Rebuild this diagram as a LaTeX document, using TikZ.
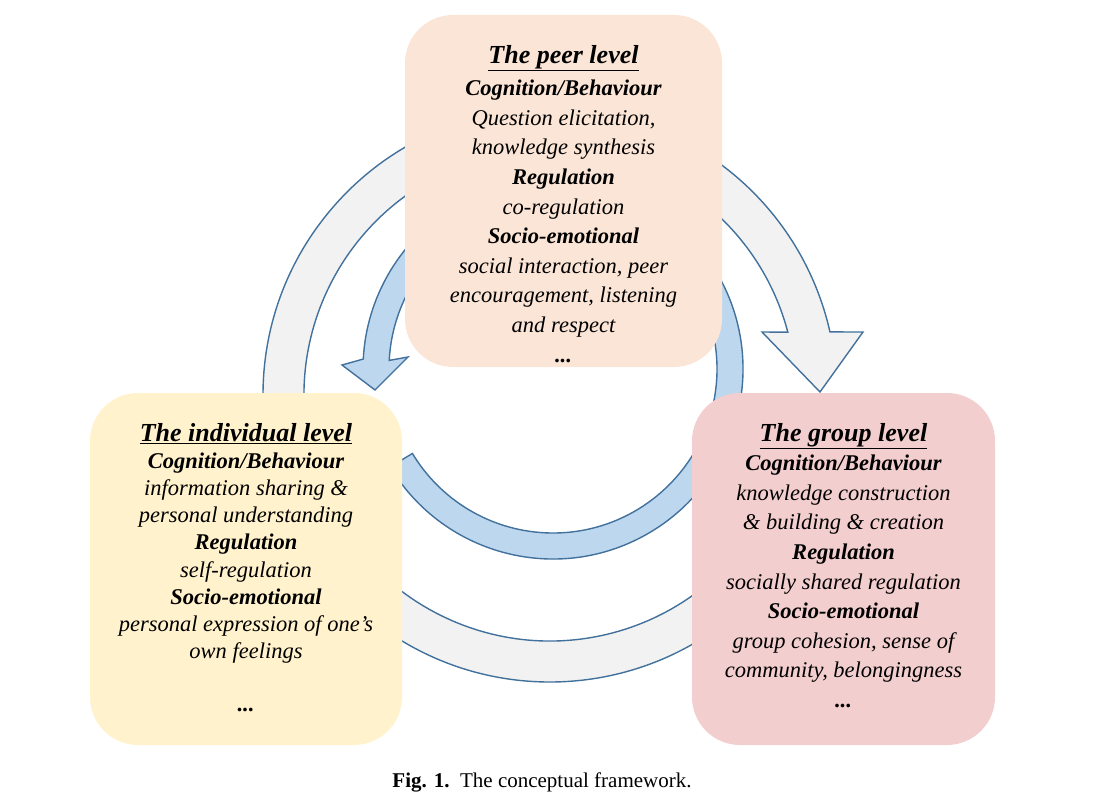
\documentclass[tikz,border=0pt]{standalone}
\usepackage{fontspec}
\setmainfont{Liberation Serif}
\usepackage{tikz}
\usetikzlibrary{positioning, calc}
\definecolor{ringline}{HTML}{41719C}
\definecolor{ringgray}{HTML}{F2F2F2}
\definecolor{ringblue}{HTML}{BDD7EE}
\definecolor{peerfill}{HTML}{FBE5D6}
\definecolor{indfill}{HTML}{FFF2CC}
\definecolor{groupfill}{HTML}{F3CECE}
\newcommand{\lvltitle}[1]{{\fontsize{26}{33}\selectfont\underline{\textbf{#1}}}}

\begin{document}
\begin{tikzpicture}[x=1pt, y=-1pt,
		ring/.style={draw=ringline, line width=1.4pt, line join=miter},
		levelbox/.style={rectangle, rounded corners=48pt, inner sep=0pt},
		leveltext/.style={align=center, inner sep=0pt, font=\itshape\fontsize{22.5}{29.6}\selectfont}]
	\useasboundingbox (0,0) rectangle (1096,792);
	% big ring: individual -> peer -> group
	\coordinate (oc) at (550,395);
	\draw [ring, fill=ringgray] ($(oc)+(40:287)$) arc[start angle=40, end angle=347.3, radius=287] -- (863,332) -- (820,392) -- (762,332) -- ($(oc)+(345.2:246)$) arc[start angle=345.2, end angle=40, radius=246] -- cycle;
	% small ring: group -> peer -> individual
	\coordinate (ic) at (553,369);
	\draw [ring, fill=ringblue] ($(ic)+(149:190)$) arc[start angle=149, end angle=-177, radius=190] -- (342,365) -- (375,390) -- (408,357) -- ($(ic)+(-177:164)$) arc[start angle=-177, end angle=149, radius=164] -- cycle;
	% the three levels
	\node [levelbox, fill=peerfill, minimum width=317pt, minimum height=352pt] (peer) at (563.5,191) {};
	\node [levelbox, fill=indfill, minimum width=312pt, minimum height=352pt] (indiv) at (246,569) {};
	\node [levelbox, fill=groupfill, minimum width=303pt, minimum height=352pt] (group) at (843.5,569) {};
	\node [leveltext, below=30pt of peer.north] (peertext) {\lvltitle{The peer level}\\[3pt]
		\textbf{Cognition/Behaviour}\\ Question elicitation,\\ knowledge synthesis\\
		\textbf{Regulation}\\ co-regulation\\ \textbf{Socio-emotional}\\
		social interaction, peer\\ encouragement, listening\\ and respect\\ \textbf{...}};
	\node [leveltext, font=\itshape\fontsize{22.5}{27.2}\selectfont, below=30pt of indiv.north] (indivtext) {\lvltitle{The individual level}\\
		\textbf{Cognition/Behaviour}\\ information sharing \&\\ personal understanding\\
		\textbf{Regulation}\\ self-regulation\\ \textbf{Socio-emotional}\\
		personal expression of one's\\ own feelings\\[26pt] \textbf{...}};
	\node [leveltext, below=30pt of group.north] (grouptext) {\lvltitle{The group level}\\
		\textbf{Cognition/Behaviour}\\ knowledge construction\\ \& building \& creation\\
		\textbf{Regulation}\\ socially shared regulation\\ \textbf{Socio-emotional}\\
		group cohesion, sense of\\ community, belongingness\\ \textbf{...}};
	\node [anchor=base, font=\fontsize{21}{25}\selectfont] (caption) at (542,787) {\textbf{Fig. 1.}\enspace The conceptual framework.};
\end{tikzpicture}
\end{document}
